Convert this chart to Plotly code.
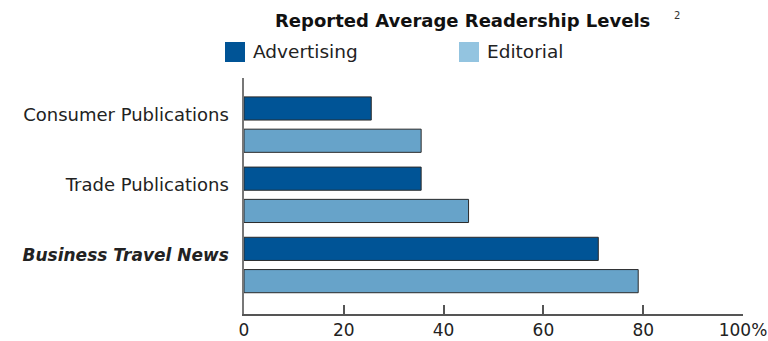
import plotly.graph_objects as go

categories = ["Business Travel News", "Trade Publications", "Consumer Publications"]
tick_text = ["<b><i>Business Travel News</i></b>",
             "<span style='font-size:18px'>Trade Publications</span>",
             "<span style='font-size:18px'>Consumer Publications</span>"]
series_names = ["Advertising", "Editorial"]
advertising = [71, 35.5, 25.5]
editorial = [79, 45, 35.5]
x_ticks = [0, 20, 40, 60, 80, 100]
x_tick_labels = ["0", "20", "40", "60", "80", "100%"]

bar_colors = ["#005496", "#67a3c9"]
legend_colors = ["#005496", "#93c4e0"]

W, H = 768, 341
L, R, T, B = 244, 25, 78, 27
pw, ph = W - L - R, H - T - B

def px_to_paper(x, y):
    return (x - L) / pw, (H - B - y) / ph

fig = go.Figure()
fig.add_trace(go.Bar(
    y=categories, x=advertising, orientation="h", name=series_names[0],
    marker=dict(color=bar_colors[0], line=dict(color="#2a2a2a", width=1)),
    offset=-0.07, width=0.33, showlegend=False, hoverinfo="x+name"))
fig.add_trace(go.Bar(
    y=categories, x=editorial, orientation="h", name=series_names[1],
    marker=dict(color=bar_colors[1], line=dict(color="#2a2a2a", width=1)),
    offset=-0.53, width=0.33, showlegend=False, hoverinfo="x+name"))

font_family = "DejaVu Sans, Arial, sans-serif"

# custom legend
leg = [(225, series_names[0], legend_colors[0]), (459, series_names[1], legend_colors[1])]
for xpx, name, col in leg:
    x0, y0 = px_to_paper(xpx, 62)
    x1, y1 = px_to_paper(xpx + 20, 42)
    fig.add_shape(type="rect", xref="paper", yref="paper", x0=x0, x1=x1, y0=y0, y1=y1,
                  fillcolor=col, line=dict(width=0))
    tx, ty = px_to_paper(xpx + 26, 51)
    fig.add_annotation(xref="paper", yref="paper", x=tx, y=ty, text=name, showarrow=False,
                       xanchor="left", yanchor="middle",
                       font=dict(size=18.5, color="#222222", family=font_family))

fig.add_annotation(xref="paper", yref="paper", x=px_to_paper(462, 20)[0], y=px_to_paper(462, 20)[1],
                   text="<b>Reported Average Readership Levels</b>", showarrow=False,
                   xanchor="center", yanchor="middle",
                   font=dict(size=18, color="#111111", family=font_family))
fig.add_annotation(xref="paper", yref="paper", x=px_to_paper(672, 15)[0], y=px_to_paper(672, 15)[1],
                   text="2", showarrow=False, xanchor="left", yanchor="middle",
                   font=dict(size=10, color="#333333", family=font_family))

fig.update_layout(
    width=W, height=H,
    margin=dict(l=L, r=R, t=T, b=B, pad=0),
    plot_bgcolor="white", paper_bgcolor="white",
    barmode="overlay",
    font=dict(family=font_family, color="#222222"),
    xaxis=dict(range=[0, 100], tickvals=x_ticks, ticktext=x_tick_labels,
               showline=True, linecolor="#555555", linewidth=1.5,
               ticks="inside", ticklen=9, tickcolor="#555555", tickwidth=1.5,
               showgrid=False, zeroline=False, automargin=False,
               tickfont=dict(size=17, color="#222222"), fixedrange=True),
    yaxis=dict(type="category", categoryorder="array", categoryarray=categories,
               tickvals=categories, ticktext=tick_text,
               range=[-0.833, 2.529],
               showline=True, linecolor="#777777", linewidth=1.5,
               ticks="", showgrid=False, zeroline=False, ticklabelstandoff=10,
               automargin=False,
               tickfont=dict(size=17, color="#222222"), fixedrange=True),
)

fig.write_html("out.html")
